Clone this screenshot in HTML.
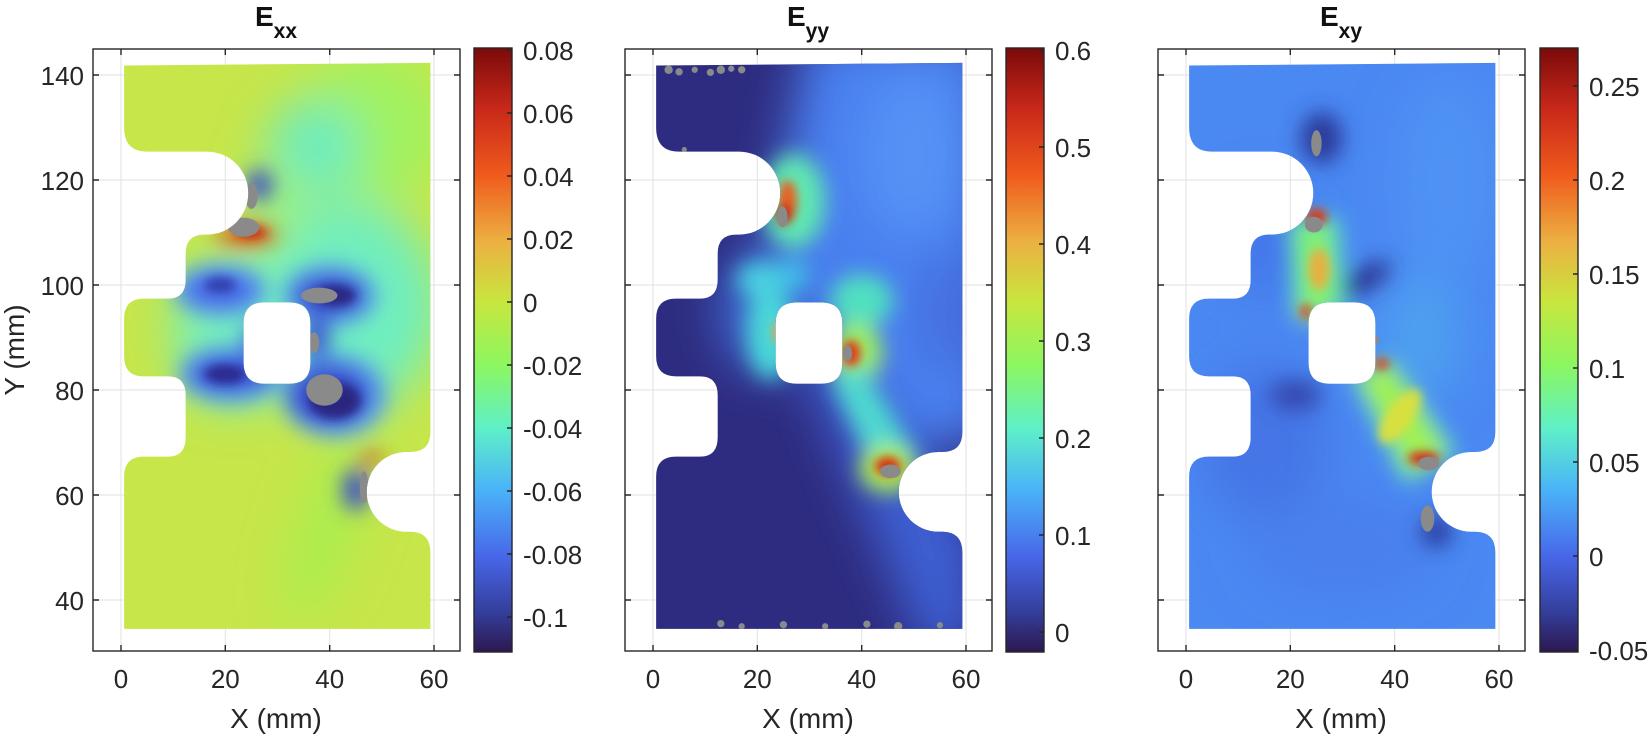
<!DOCTYPE html>
<html><head><meta charset="utf-8"><style>
html,body{margin:0;padding:0;background:#fff;}
svg{display:block;font-family:"Liberation Sans",Arial,sans-serif;}
</style></head><body>
<svg width="1650" height="738" viewBox="0 0 1650 738" xmlns="http://www.w3.org/2000/svg">
<defs>
<clipPath id="clip">
<path clip-rule="evenodd" d="M0.6,141.8 L59.3,142.3 L59.3,72 Q59.3,68.2 55.5,68.2 L54.7,68.2 A7.6,7.6 0 0 1 54.7,53 L55.5,53 Q59.3,53 59.3,49 L59.3,34.5 L0.6,34.5 L0.6,63.5 Q0.6,67.3 4.4,67.3 L9,67.3 Q12.4,67.3 12.4,71 L12.4,79 Q12.4,82.6 9,82.6 L4.4,82.6 Q0.6,82.6 0.6,86.4 L0.6,93.6 Q0.6,97.4 4.4,97.4 L9,97.4 Q12.4,97.4 12.4,101 L12.4,106 Q12.4,109.6 16,109.6 L16.5,109.6 A7.9,7.9 0 0 1 16.5,125.4 L5,125.4 Q0.6,125.4 0.6,130 Z M27.5,96.7 L32.3,96.7 Q36.3,96.7 36.3,92.7 L36.3,85.2 Q36.3,81.2 32.3,81.2 L27.5,81.2 Q23.5,81.2 23.5,85.2 L23.5,92.7 Q23.5,96.7 27.5,96.7 Z"/>
</clipPath>
<filter id="b6" filterUnits="userSpaceOnUse" x="-10" y="20" width="80" height="135"><feGaussianBlur stdDeviation="4.5"/></filter>
<filter id="b3" filterUnits="userSpaceOnUse" x="-10" y="20" width="80" height="135"><feGaussianBlur stdDeviation="2"/></filter>
<filter id="b1" filterUnits="userSpaceOnUse" x="-10" y="20" width="80" height="135"><feGaussianBlur stdDeviation="0.9"/></filter>
<linearGradient id="turbo" x1="0" y1="1" x2="0" y2="0">
<stop offset="0" stop-color="#2c1850"/><stop offset="0.06" stop-color="#333b95"/>
<stop offset="0.16" stop-color="#4868ea"/><stop offset="0.27" stop-color="#4ab4f8"/>
<stop offset="0.37" stop-color="#5ef0c8"/><stop offset="0.475" stop-color="#8cf760"/>
<stop offset="0.58" stop-color="#c8e63e"/><stop offset="0.68" stop-color="#ecb042"/>
<stop offset="0.79" stop-color="#f05a1c"/><stop offset="0.9" stop-color="#c8281a"/>
<stop offset="1" stop-color="#7a0a0a"/>
</linearGradient>
</defs>

<!-- ========== PANEL 1 ========== -->
<g>
<g stroke="#e2e2e2" stroke-width="1">
<line x1="121" y1="49" x2="121" y2="651"/><line x1="225.3" y1="49" x2="225.3" y2="651"/><line x1="329.7" y1="49" x2="329.7" y2="651"/><line x1="434" y1="49" x2="434" y2="651"/>
<line x1="93" y1="75" x2="460" y2="75"/><line x1="93" y1="180" x2="460" y2="180"/><line x1="93" y1="285" x2="460" y2="285"/><line x1="93" y1="390" x2="460" y2="390"/><line x1="93" y1="495" x2="460" y2="495"/><line x1="93" y1="600" x2="460" y2="600"/>
</g>
<g transform="translate(121,810) scale(5.217,-5.25)">
<g clip-path="url(#clip)">
<rect x="-5" y="30" width="70" height="115" fill="#c6e64a"/>
<g filter="url(#b6)">
<ellipse cx="48" cy="130" rx="14" ry="14" fill="#a0f260"/>
<ellipse cx="37" cy="126" rx="9" ry="9" fill="#6cecc0"/>
<ellipse cx="43" cy="96" rx="18" ry="20" fill="#6eeec0"/>
<ellipse cx="22" cy="91" rx="12" ry="14" fill="#72efbe"/>
<ellipse cx="40" cy="55" rx="5" ry="20" transform="rotate(-20 40 55)" fill="#a8ee50"/>
<ellipse cx="30" cy="115" rx="6" ry="8" fill="#9af080"/>
</g>
<g filter="url(#b3)">
<ellipse cx="19" cy="99" rx="9" ry="5" fill="#5aa0f0"/>
<ellipse cx="21" cy="83" rx="10" ry="5.5" fill="#5aa0f0"/>
<ellipse cx="40" cy="98" rx="9" ry="6" fill="#5aa0f0"/>
<ellipse cx="41" cy="79" rx="10" ry="8" fill="#5aa0f0"/>
<ellipse cx="19" cy="99" rx="7" ry="3.5" fill="#4a6ae8"/>
<ellipse cx="21" cy="83" rx="8" ry="3.5" fill="#3e55d8"/>
<ellipse cx="40" cy="98" rx="7" ry="4" fill="#3b50d0"/>
<ellipse cx="40" cy="79" rx="8" ry="6" fill="#3b50d0"/>
<ellipse cx="25.5" cy="89" rx="2" ry="4" fill="#4a6ae8"/>
<ellipse cx="37.5" cy="90" rx="2.5" ry="4" fill="#3b50d0"/>
<ellipse cx="26.5" cy="119" rx="2.5" ry="3" fill="#3a48c8"/>
<ellipse cx="45" cy="61" rx="2.5" ry="4" fill="#3a48c8"/>
<ellipse cx="24" cy="109.5" rx="6" ry="1.8" fill="#e04a18"/>
<ellipse cx="48" cy="67" rx="2.5" ry="1" fill="#d83010"/>
</g>
<g filter="url(#b1)">
<ellipse cx="20" cy="83" rx="4" ry="1.8" fill="#2a2a90"/>
<ellipse cx="41" cy="78" rx="5" ry="3.5" fill="#2a2880"/>
<ellipse cx="41" cy="98" rx="4" ry="2" fill="#2a2880"/>
<ellipse cx="19" cy="100" rx="3" ry="1.5" fill="#3040b0"/>
<ellipse cx="25" cy="110" rx="3" ry="1" fill="#c82010"/>
</g>
<g fill="#8a8a8a">
<ellipse cx="23.5" cy="111" rx="3" ry="1.8"/>
<ellipse cx="25" cy="117" rx="1.2" ry="2.5"/>
<ellipse cx="38" cy="98" rx="3.5" ry="1.5"/>
<ellipse cx="39" cy="80" rx="3.5" ry="3"/>
<ellipse cx="37" cy="89" rx="1" ry="2"/>
<ellipse cx="46.6" cy="61.5" rx="0.8" ry="3"/>
</g>
</g>
</g>
<g stroke="#262626" stroke-width="1.4" fill="none">
<rect x="93" y="49" width="367" height="602"/>
<path d="M121,651v-6M225.3,651v-6M329.7,651v-6M434,651v-6M121,49v6M225.3,49v6M329.7,49v6M434,49v6M93,75h6M93,180h6M93,285h6M93,390h6M93,495h6M93,600h6M460,75h-6M460,180h-6M460,285h-6M460,390h-6M460,495h-6M460,600h-6"/>
</g>
<g font-size="26" fill="#262626">
<g text-anchor="end"><text x="84" y="85">140</text><text x="84" y="190">120</text><text x="84" y="295">100</text><text x="84" y="400">80</text><text x="84" y="505">60</text><text x="84" y="610">40</text></g>
<g text-anchor="middle"><text x="121" y="688">0</text><text x="225.3" y="688">20</text><text x="329.7" y="688">40</text><text x="434" y="688">60</text></g>
<text x="276" y="728" text-anchor="middle" font-size="28">X (mm)</text>
<text transform="translate(24,350) rotate(-90)" text-anchor="middle" font-size="28">Y (mm)</text>
</g>
<text x="276" y="26" text-anchor="middle" font-weight="bold" font-size="28" fill="#111">E<tspan font-size="21" dy="12">xx</tspan></text>
<rect x="474" y="48" width="38" height="604" fill="url(#turbo)" stroke="#262626" stroke-width="1.4"/>
<g stroke="#262626" stroke-width="1.4"><path d="M512,50h-5M512,113h-5M512,176h-5M512,239h-5M512,302h-5M512,365h-5M512,428h-5M512,491h-5M512,554h-5M512,617h-5"/></g>
<g font-size="26" fill="#262626">
<text x="523" y="60">0.08</text><text x="523" y="123">0.06</text><text x="523" y="186">0.04</text><text x="523" y="249">0.02</text><text x="523" y="312">0</text><text x="523" y="375">-0.02</text><text x="523" y="438">-0.04</text><text x="523" y="501">-0.06</text><text x="523" y="564">-0.08</text><text x="523" y="627">-0.1</text>
</g>
</g>

<!-- ========== PANEL 2 ========== -->
<g transform="translate(532,0)">
<g stroke="#e2e2e2" stroke-width="1">
<line x1="121" y1="49" x2="121" y2="651"/><line x1="225.3" y1="49" x2="225.3" y2="651"/><line x1="329.7" y1="49" x2="329.7" y2="651"/><line x1="434" y1="49" x2="434" y2="651"/>
<line x1="93" y1="75" x2="460" y2="75"/><line x1="93" y1="180" x2="460" y2="180"/><line x1="93" y1="285" x2="460" y2="285"/><line x1="93" y1="390" x2="460" y2="390"/><line x1="93" y1="495" x2="460" y2="495"/><line x1="93" y1="600" x2="460" y2="600"/>
</g>
<g transform="translate(121,810) scale(5.217,-5.25)">
<g clip-path="url(#clip)">
<rect x="-5" y="30" width="70" height="115" fill="#2e2c80"/>
<g filter="url(#b6)">
<polygon points="30,148 65,148 65,70 47,70 32,92 22,108" fill="#4a80f0"/>
<ellipse cx="50" cy="125" rx="10" ry="16" fill="#5592f5"/>
<polygon points="28,86 40,86 62,52 62,30 52,30" fill="#3c5ed2"/>
<ellipse cx="56" cy="95" rx="4" ry="12" fill="#4468d8"/>
<ellipse cx="22" cy="95" rx="9" ry="12" fill="#4070d8"/>
</g>
<g filter="url(#b3)">
<ellipse cx="22.5" cy="91" rx="4.5" ry="9" fill="#48d8d8"/>
<ellipse cx="21" cy="101" rx="5" ry="3.5" fill="#4ad0e0"/>
<ellipse cx="40" cy="97" rx="6" ry="5" fill="#50e0c0"/>
<ellipse cx="39" cy="87" rx="5" ry="6" fill="#9cf060"/>
<ellipse cx="27" cy="116" rx="6" ry="9" fill="#60e8b0"/>
<polygon points="34,82 40,85 51,67 44,61" fill="#50d8d0"/>
<ellipse cx="45" cy="65" rx="5.5" ry="4.5" fill="#b0f050"/>
<ellipse cx="27" cy="102" rx="3" ry="3" fill="#40c0e8"/>
</g>
<g filter="url(#b1)">
<ellipse cx="38" cy="87" rx="1.8" ry="2.5" fill="#e03a12"/>
<ellipse cx="25.8" cy="116" rx="1.8" ry="4" fill="#e86020"/>
<ellipse cx="25.2" cy="113.5" rx="1.5" ry="2" fill="#c82010"/>
<ellipse cx="45" cy="65.5" rx="2.5" ry="1.8" fill="#d83010"/>
<ellipse cx="24" cy="91" rx="1" ry="2" fill="#f0a040"/>
</g>
<g fill="#8a8a8a">
<ellipse cx="24.8" cy="113" rx="1" ry="2"/>
<ellipse cx="37.3" cy="87" rx="0.9" ry="1.5"/>
<ellipse cx="45.5" cy="64.5" rx="2" ry="1.3"/>
<circle cx="3" cy="141" r="0.8"/><circle cx="5" cy="140.6" r="0.7"/><circle cx="8" cy="141" r="0.6"/><circle cx="11" cy="140.5" r="0.7"/><circle cx="13" cy="141" r="0.8"/><circle cx="15" cy="141.2" r="0.6"/><circle cx="17" cy="141" r="0.7"/><circle cx="6" cy="125.8" r="0.5"/>
<circle cx="13" cy="35.5" r="0.7"/><circle cx="17" cy="35" r="0.6"/><circle cx="25" cy="35.3" r="0.7"/><circle cx="33" cy="35" r="0.6"/><circle cx="41" cy="35.4" r="0.7"/><circle cx="47" cy="35" r="0.8"/><circle cx="55" cy="35.2" r="0.6"/>
</g>
</g>
</g>
<g stroke="#262626" stroke-width="1.4" fill="none">
<rect x="93" y="49" width="367" height="602"/>
<path d="M121,651v-6M225.3,651v-6M329.7,651v-6M434,651v-6M121,49v6M225.3,49v6M329.7,49v6M434,49v6M93,75h6M93,180h6M93,285h6M93,390h6M93,495h6M93,600h6M460,75h-6M460,180h-6M460,285h-6M460,390h-6M460,495h-6M460,600h-6"/>
</g>
<g font-size="26" fill="#262626">
<g text-anchor="middle"><text x="121" y="688">0</text><text x="225.3" y="688">20</text><text x="329.7" y="688">40</text><text x="434" y="688">60</text></g>
<text x="276" y="728" text-anchor="middle" font-size="28">X (mm)</text>
</g>
<text x="276" y="26" text-anchor="middle" font-weight="bold" font-size="28" fill="#111">E<tspan font-size="21" dy="12">yy</tspan></text>
<rect x="474" y="48" width="38" height="604" fill="url(#turbo)" stroke="#262626" stroke-width="1.4"/>
<g stroke="#262626" stroke-width="1.4"><path d="M512,50h-5M512,147h-5M512,244h-5M512,341h-5M512,438h-5M512,535h-5M512,632h-5"/></g>
<g font-size="26" fill="#262626">
<text x="523" y="60">0.6</text><text x="523" y="157">0.5</text><text x="523" y="254">0.4</text><text x="523" y="351">0.3</text><text x="523" y="448">0.2</text><text x="523" y="545">0.1</text><text x="523" y="642">0</text>
</g>
</g>

<!-- ========== PANEL 3 ========== -->
<g transform="translate(1065,0)">
<g stroke="#e2e2e2" stroke-width="1">
<line x1="121" y1="49" x2="121" y2="651"/><line x1="225.3" y1="49" x2="225.3" y2="651"/><line x1="329.7" y1="49" x2="329.7" y2="651"/><line x1="434" y1="49" x2="434" y2="651"/>
<line x1="93" y1="75" x2="460" y2="75"/><line x1="93" y1="180" x2="460" y2="180"/><line x1="93" y1="285" x2="460" y2="285"/><line x1="93" y1="390" x2="460" y2="390"/><line x1="93" y1="495" x2="460" y2="495"/><line x1="93" y1="600" x2="460" y2="600"/>
</g>
<g transform="translate(121,810) scale(5.217,-5.25)">
<g clip-path="url(#clip)">
<rect x="-5" y="30" width="70" height="115" fill="#4a88f2"/>
<g filter="url(#b6)">
<ellipse cx="15" cy="70" rx="12" ry="15" fill="#4474e6"/>
<ellipse cx="15" cy="108" rx="10" ry="10" fill="#4478ea"/>
<ellipse cx="50" cy="120" rx="10" ry="20" fill="#5092f4"/>
<ellipse cx="30" cy="50" rx="18" ry="10" fill="#4880ee"/>
<ellipse cx="45" cy="90" rx="8" ry="12" fill="#4ea0f0"/>
</g>
<g filter="url(#b3)">
<ellipse cx="26" cy="128" rx="4" ry="5" fill="#2a3a9a"/>
<ellipse cx="34" cy="101" rx="6" ry="2.2" transform="rotate(30 34 101)" fill="#2c3490"/>
<ellipse cx="21" cy="79" rx="5" ry="3" fill="#3448b0"/>
<ellipse cx="48" cy="53" rx="3" ry="3" fill="#2c3a9c"/>
<polygon points="19.5,113 29.5,113 30.5,94 20.5,94" fill="#50d8d0"/>
<polygon points="31.5,83 39.5,86 52,68 42,62" fill="#60e0c0"/>
<polygon points="21,112 28,112 29,95 22,95" fill="#80f070"/>
<polygon points="33,83 39,85 50,68 43,64" fill="#a0f050"/>
<ellipse cx="23.5" cy="95" rx="2" ry="2" fill="#a0f060"/>
</g>
<g filter="url(#b1)">
<ellipse cx="25.5" cy="103" rx="2" ry="4" fill="#e8b040"/>
<ellipse cx="41" cy="75" rx="2.5" ry="6" transform="rotate(-35 41 75)" fill="#d8e040"/>
<ellipse cx="25" cy="113" rx="2" ry="1.5" fill="#e03010"/>
<ellipse cx="23" cy="95" rx="1" ry="1.3" fill="#e04010"/>
<ellipse cx="37.5" cy="85" rx="1.5" ry="1" fill="#e04010"/>
<ellipse cx="45.5" cy="67" rx="3" ry="1.2" fill="#d82010"/>
</g>
<g fill="#8a8a8a">
<ellipse cx="25" cy="127" rx="1" ry="2.5"/>
<ellipse cx="24.5" cy="111.5" rx="1.7" ry="1.5"/>
<ellipse cx="46.5" cy="66" rx="2" ry="1.3"/>
<ellipse cx="46.3" cy="55.5" rx="1.3" ry="2.5"/>
<ellipse cx="36.5" cy="89.5" rx="0.5" ry="0.8"/>
</g>
</g>
</g>
<g stroke="#262626" stroke-width="1.4" fill="none">
<rect x="93" y="49" width="367" height="602"/>
<path d="M121,651v-6M225.3,651v-6M329.7,651v-6M434,651v-6M121,49v6M225.3,49v6M329.7,49v6M434,49v6M93,75h6M93,180h6M93,285h6M93,390h6M93,495h6M93,600h6M460,75h-6M460,180h-6M460,285h-6M460,390h-6M460,495h-6M460,600h-6"/>
</g>
<g font-size="26" fill="#262626">
<g text-anchor="middle"><text x="121" y="688">0</text><text x="225.3" y="688">20</text><text x="329.7" y="688">40</text><text x="434" y="688">60</text></g>
<text x="276" y="728" text-anchor="middle" font-size="28">X (mm)</text>
</g>
<text x="276" y="26" text-anchor="middle" font-weight="bold" font-size="28" fill="#111">E<tspan font-size="21" dy="12">xy</tspan></text>
<rect x="475" y="48" width="38" height="604" fill="url(#turbo)" stroke="#262626" stroke-width="1.4"/>
<g stroke="#262626" stroke-width="1.4"><path d="M513,86h-5M513,180h-5M513,274h-5M513,368h-5M513,462h-5M513,556h-5M513,650h-5"/></g>
<g font-size="26" fill="#262626">
<text x="524" y="96">0.25</text><text x="524" y="190">0.2</text><text x="524" y="284">0.15</text><text x="524" y="378">0.1</text><text x="524" y="472">0.05</text><text x="524" y="566">0</text><text x="524" y="660">-0.05</text>
</g>
</g>
</svg>
</body></html>
